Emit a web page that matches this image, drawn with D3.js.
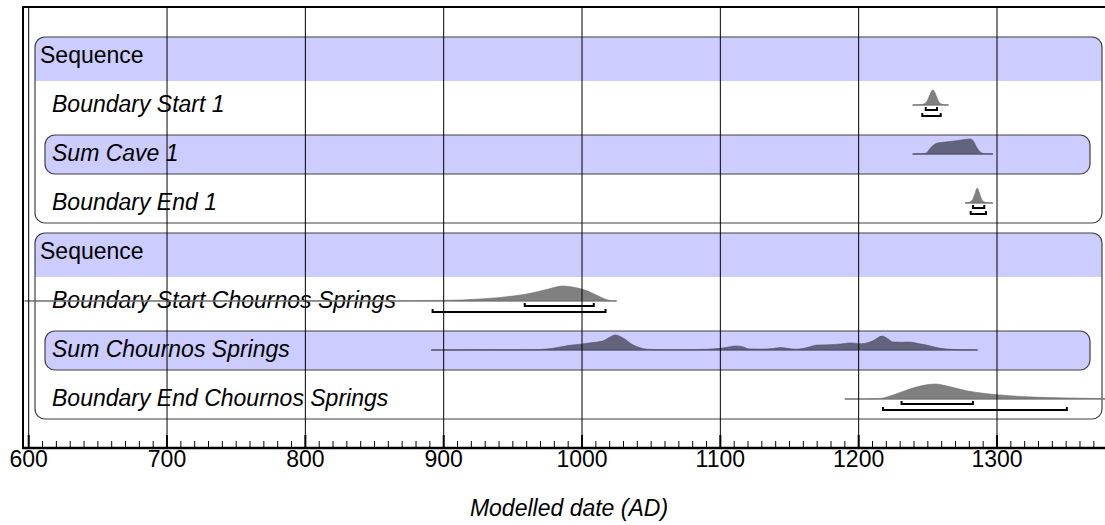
<!DOCTYPE html>
<html>
<head>
<meta charset="utf-8">
<script src="https://cdn.jsdelivr.net/npm/d3@7"></script>
<style>
    body { margin: 0; background: #fff; }
    text { font-family: "Liberation Sans", Arial, sans-serif; }
</style>
</head>
<body>
<div id="chart"></div>
<script>
// rows of the plot, top to bottom
const rowLabels = ["Sequence", "Boundary Start 1", "Sum Cave 1", "Boundary End 1",
                   "Sequence", "Boundary Start Chournos Springs", "Sum Chournos Springs", "Boundary End Chournos Springs"];
const rowKinds = ["sequence", "boundary", "sum", "boundary", "sequence", "boundary", "sum", "boundary"];

// posterior distributions, [year AD, relative probability]
const startCave1 = [[1239,0],[1245,0.02],[1248,0.1],[1250,0.35],[1251.5,0.7],[1253,0.97],[1253.8,1],
    [1255,0.85],[1256.5,0.5],[1258,0.2],[1260,0.06],[1262,0.015],[1265,0]];
const sumCave1 = [[1239,0],[1246,0.01],[1249,0.07],[1251,0.3],[1253.5,0.55],[1257,0.73],[1263,0.8],
    [1272,0.9],[1281,1],[1283,0.85],[1285,0.5],[1287,0.22],[1289,0.07],[1292,0.01],[1297,0]];
const endCave1 = [[1277,0],[1280,0.05],[1282.5,0.25],[1284,0.6],[1285.7,1],[1287,0.75],[1288.5,0.35],
    [1290,0.12],[1293,0.02],[1297,0]];
const startChournos = [[597,0],[700,0.004],[800,0.01],[860,0.02],[900,0.04],[926,0.13],[950,0.33],
    [962,0.5],[975,0.78],[986,1],[993,0.93],[1001,0.76],[1008,0.5],[1014,0.24],[1020,0.04],[1025,0]];
const sumChournos = [[891,0],[950,0.01],[969,0.03],[979,0.11],[991,0.31],[1000,0.4],[1008,0.5],[1015,0.6],
    [1020,0.85],[1024,1],[1030,0.78],[1037,0.33],[1042,0.15],[1047,0.05],[1060,0.02],[1076,0.02],
    [1090,0.05],[1100,0.11],[1106,0.2],[1111,0.27],[1116,0.22],[1121,0.07],[1130,0.06],[1138,0.1],
    [1143,0.17],[1148,0.12],[1155,0.05],[1162,0.15],[1170,0.33],[1179,0.35],[1187,0.4],[1194,0.47],
    [1202,0.42],[1210,0.6],[1217,0.93],[1221,0.75],[1225,0.53],[1231,0.52],[1237,0.53],[1243,0.43],
    [1249,0.33],[1257,0.15],[1264,0.06],[1275,0.01],[1286,0]];
const endChournos = [[1190,0],[1205,0.005],[1215,0.03],[1225,0.27],[1237,0.67],[1248,0.93],[1255,1],
    [1266,0.82],[1278,0.55],[1290,0.38],[1302,0.27],[1326,0.13],[1350,0.07],[1378,0.02],[1400,0.005]];
const rowDists = [null, startCave1, sumCave1, endCave1, null, startChournos, sumChournos, endChournos];

// highest posterior density ranges (68.3% and 95.4%)
const range68 = [null, [1248.5,1256.6], null, [1282.7,1290.8], null, [958.6,1008.5], null, [1231,1282.6]];
const range95 = [null, [1246,1259.3], null, [1281,1292], null, [892,1017], null, [1217.6,1350.5]];

const axisTitle = "Modelled date (AD)";

const W = 1105, H = 525;
const plotTop = 7, axisY = 447, frameX = 23;
const rowH = 49, rowTop0 = 32, peakH = 15;

const svg = d3.select("#chart").append("svg")
    .attr("width", W)
    .attr("height", H);
svg.append("rect").attr("width", W).attr("height", H).attr("fill", "#fff");

const x = d3.scaleLinear()
    .domain([600, 1300])
    .range([28.7, 997]);

const rowY = i => rowTop0 + i * rowH;

svg.append("defs").append("clipPath").attr("id", "plotClip")
    .append("rect")
    .attr("x", frameX).attr("y", plotTop)
    .attr("width", W - frameX).attr("height", axisY - plotTop);

const plot = svg.append("g").attr("clip-path", "url(#plotClip)");

// sequence boxes with shaded header
[[0, 3], [4, 7]].forEach(([a, b]) => {
    let y0 = rowY(a) + 5, y1 = rowY(b + 1) - 5;
    plot.append("path")
        .attr("d", `M35,${y0 + 44} L35,${y0 + 10} Q35,${y0} 45,${y0} L1092,${y0} Q1102,${y0} 1102,${y0 + 10} L1102,${y0 + 44} Z`)
        .attr("fill", "#ccccff");
    plot.append("rect")
        .attr("x", 35).attr("y", y0)
        .attr("width", 1102 - 35).attr("height", y1 - y0)
        .attr("rx", 10)
        .attr("fill", "none")
        .attr("stroke", "#404040")
        .attr("stroke-width", 1.2);
});

// sum boxes
rowKinds.forEach((k, i) => {
    if (k !== "sum") return;
    plot.append("rect")
        .attr("x", 45).attr("y", rowY(i) + 5)
        .attr("width", 1090 - 45).attr("height", rowH - 10)
        .attr("rx", 10)
        .attr("fill", "#ccccff")
        .attr("stroke", "#404040")
        .attr("stroke-width", 1.2);
});

// labels
plot.selectAll(".rowLabel")
    .data(rowLabels)
    .join("text")
    .attr("class", "rowLabel")
    .attr("x", (d, i) => rowKinds[i] === "sequence" ? 40 : 52)
    .attr("y", (d, i) => rowY(i) + 31)
    .attr("font-size", 23)
    .attr("font-style", (d, i) => rowKinds[i] === "sequence" ? "normal" : "italic")
    .attr("fill", "#000")
    .text(d => d);

// distributions
rowDists.forEach((dist, i) => {
    if (!dist) return;
    let base = rowY(i) + 24;
    let isSum = rowKinds[i] === "sum";
    let a = d3.area()
        .x(d => x(d[0]))
        .y0(base)
        .y1(d => base - d[1] * peakH)
        .curve(d3.curveMonotoneX);
    plot.append("path")
        .datum(dist)
        .attr("d", a)
        .attr("fill", isSum ? "#63637e" : "#808080")
        .attr("stroke", isSum ? "#50506a" : "#707070")
        .attr("stroke-width", 0.6);
    plot.append("line")
        .attr("x1", x(dist[0][0])).attr("x2", x(dist[dist.length - 1][0]))
        .attr("y1", base).attr("y2", base)
        .attr("stroke", isSum ? "#50506a" : "#707070")
        .attr("stroke-width", 1);
});

// range brackets
const bracket = (r, y) => {
    let x0 = x(r[0]), x1 = x(r[1]);
    return `M${x0},${y - 3} L${x0},${y} L${x1},${y} L${x1},${y - 3}`;
};
rowKinds.forEach((k, i) => {
    if (!range68[i]) return;
    let base = rowY(i) + 24;
    plot.append("path").attr("d", bracket(range68[i], base + 5))
        .attr("fill", "none").attr("stroke", "#000").attr("stroke-width", 2);
    plot.append("path").attr("d", bracket(range95[i], base + 11))
        .attr("fill", "none").attr("stroke", "#000").attr("stroke-width", 2);
});

// vertical gridlines every 100 years
const majors = d3.range(600, 1400, 100);
svg.selectAll(".grid")
    .data(majors)
    .join("line")
    .attr("class", "grid")
    .attr("x1", d => x(d)).attr("x2", d => x(d))
    .attr("y1", plotTop).attr("y2", axisY)
    .attr("stroke", "#000")
    .attr("stroke-width", 1);

// frame
svg.append("line")
    .attr("x1", frameX).attr("x2", W)
    .attr("y1", plotTop).attr("y2", plotTop)
    .attr("stroke", "#000").attr("stroke-width", 2);
svg.append("line")
    .attr("x1", frameX).attr("x2", frameX)
    .attr("y1", plotTop - 1).attr("y2", axisY)
    .attr("stroke", "#000").attr("stroke-width", 2);

// x axis
const minors = d3.range(600, 1380, 10).filter(d => d % 100 !== 0);
svg.selectAll(".minor")
    .data(minors)
    .join("line")
    .attr("class", "minor")
    .attr("x1", d => x(d)).attr("x2", d => x(d))
    .attr("y1", axisY - 6).attr("y2", axisY)
    .attr("stroke", "#000").attr("stroke-width", 1);
svg.selectAll(".major")
    .data(majors)
    .join("line")
    .attr("class", "major")
    .attr("x1", d => x(d)).attr("x2", d => x(d))
    .attr("y1", axisY - 12).attr("y2", axisY)
    .attr("stroke", "#000").attr("stroke-width", 2);
svg.append("line")
    .attr("x1", frameX - 1).attr("x2", W)
    .attr("y1", axisY + 1).attr("y2", axisY + 1)
    .attr("stroke", "#000").attr("stroke-width", 2.5);

svg.selectAll(".tickLabel")
    .data(majors)
    .join("text")
    .attr("class", "tickLabel")
    .attr("x", d => x(d))
    .attr("y", 467)
    .attr("text-anchor", "middle")
    .attr("font-size", 23)
    .text(d => d);

svg.append("text")
    .attr("x", 569)
    .attr("y", 516)
    .attr("text-anchor", "middle")
    .attr("font-size", 23)
    .attr("font-style", "italic")
    .text(axisTitle);
</script>
</body>
</html>
